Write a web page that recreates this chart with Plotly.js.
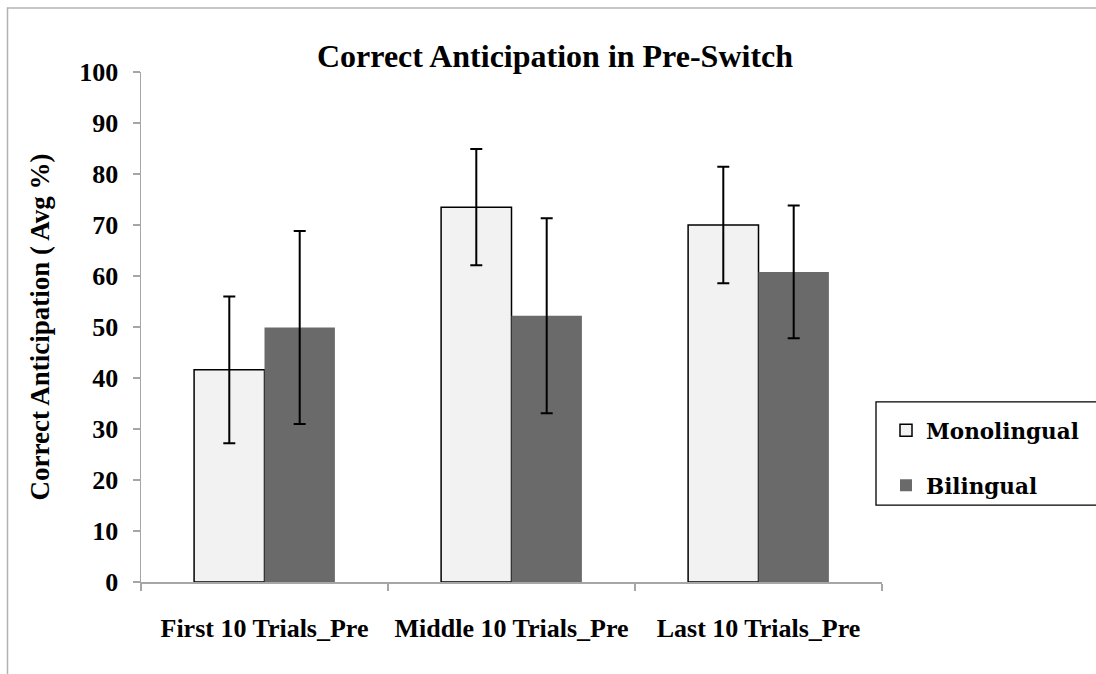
<!DOCTYPE html>
<html>
<head>
<meta charset="utf-8">
<script src="https://cdn.plot.ly/plotly-3.0.1.min.js"></script>
<style>html,body{margin:0;padding:0;background:#fff;}#chart{width:1096px;height:674px;}</style>
</head>
<body>
<div id="chart"></div>
<script>
const categories = ["First 10 Trials_Pre", "Middle 10 Trials_Pre", "Last 10 Trials_Pre"];
const monolingual = [41.6, 73.5, 70.0];
const monolingualErr = [14.4, 11.4, 11.4];
const bilingual = [49.9, 52.2, 60.8];
const bilingualErr = [18.9, 19.1, 13.0];

const W = 1096, H = 674;
const L = 141, R = 882, T = 71.7, B = 582.5;
const px = x => (x - L) / (R - L);
const py = y => (B - y) / (B - T);

const serif = "Liberation Serif, Times New Roman, serif";

const traces = [
  {
    type: "bar", name: "Monolingual", x: categories, y: monolingual,
    legendgroup: "a",
    marker: {color: "#f2f2f2", line: {color: "#000000", width: 1.5}},
    error_y: {type: "data", array: monolingualErr, visible: true, color: "#000000", thickness: 2, width: 6}
  },
  {
    type: "bar", name: "Bilingual", x: categories, y: bilingual,
    legendgroup: "b",
    marker: {color: "#6a6a6a", line: {color: "#6a6a6a", width: 0}},
    error_y: {type: "data", array: bilingualErr, visible: true, color: "#000000", thickness: 2, width: 6}
  }
];

const layout = {
  width: W, height: H,
  margin: {l: L, r: W - R, t: T, b: H - B, pad: 0},
  paper_bgcolor: "#ffffff", plot_bgcolor: "#ffffff",
  barmode: "group", bargap: 0.43, bargroupgap: 0,
  showlegend: true,
  title: {
    text: "<b>Correct Anticipation in Pre-Switch</b>",
    font: {family: serif, size: 32, color: "#000000"},
    x: px(555), xref: "paper", xanchor: "center",
    y: 1 - 56 / H, yref: "container", yanchor: "middle"
  },
  xaxis: {
    type: "category",
    showline: true, linecolor: "#a6a6a6", linewidth: 1.5,
    ticks: "outside", tickson: "boundaries", ticklen: 7, tickcolor: "#a6a6a6", tickwidth: 1.5,
    tickfont: {family: serif, size: 26, color: "#000000", weight: "bold"},
    ticklabelstandoff: 22,
    showgrid: false, zeroline: false, fixedrange: true
  },
  yaxis: {
    range: [0, 100], dtick: 10, tick0: 0,
    showline: true, linecolor: "#a6a6a6", linewidth: 1.5,
    ticks: "outside", ticklen: 7, tickcolor: "#a6a6a6", tickwidth: 1.5,
    tickfont: {family: serif, size: 26, color: "#000000", weight: "bold"},
    ticklabelstandoff: 9,
    showgrid: false, zeroline: false, fixedrange: true,
    title: {
      text: "<b>Correct Anticipation ( Avg %)</b>",
      font: {family: serif, size: 27, color: "#000000"},
      standoff: 22
    }
  },
  legend: {
    x: px(886), xanchor: "left", xref: "paper",
    y: py(410), yanchor: "top", yref: "paper",
    bgcolor: "rgba(0,0,0,0)", borderwidth: 0,
    font: {family: "DejaVu Serif, serif", size: 21.5, color: "#000000", weight: "bold"},
    tracegroupgap: 24, itemwidth: 30, traceorder: "grouped"
  },
  shapes: [
    {type: "line", xref: "paper", yref: "paper", x0: px(7), x1: px(W + 5), y0: py(7.5), y1: py(7.5),
     line: {color: "#b3b3b3", width: 1.5}},
    {type: "line", xref: "paper", yref: "paper", x0: px(7.5), x1: px(7.5), y0: py(7), y1: py(H + 5),
     line: {color: "#b3b3b3", width: 1.5}},
    {type: "rect", xref: "paper", yref: "paper", x0: px(876), x1: px(W + 10), y0: py(402), y1: py(505.5),
     line: {color: "#000000", width: 1.3}, fillcolor: "rgba(0,0,0,0)", layer: "below"}
  ]
};

Plotly.newPlot("chart", traces, layout, {displayModeBar: false, staticPlot: true});
</script>
</body>
</html>
